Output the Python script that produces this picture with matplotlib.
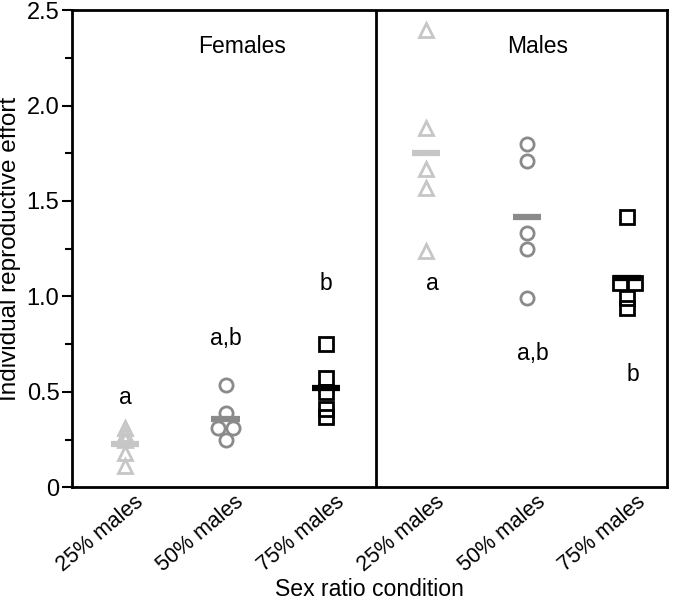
import matplotlib
matplotlib.use("Agg")
import matplotlib.pyplot as plt
import matplotlib.transforms as mtransforms
import numpy as np
from matplotlib.ticker import MultipleLocator, FixedLocator

plt.rcParams["font.family"] = ["Liberation Sans", "DejaVu Sans"]

categories = ["25% males", "50% males", "75% males",
              "25% males", "50% males", "75% males"]
panels = ["Females", "Males"]

groups = [
    [0.31, 0.28, 0.25, 0.18, 0.11],    # females 25%
    [0.535, 0.39, 0.31, 0.31, 0.25],   # females 50%
    [0.75, 0.57, 0.50, 0.41, 0.37],    # females 75%
    [2.395, 1.88, 1.67, 1.57, 1.24],   # males 25%
    [1.80, 1.71, 1.33, 1.25, 0.99],    # males 50%
    [1.415, 1.07, 1.07, 0.99, 0.94],   # males 75%
]
letters = ["a", "a,b", "b", "a", "a,b", "b"]
letter_y = [0.47, 0.78, 1.07, 1.07, 0.70, 0.59]

markers = ["^", "o", "s"] * 2
colors = ["#c6c6c6", "#8a8a8a", "#000000"] * 2

fig = plt.figure(figsize=(6.85, 6.0), dpi=100)
ax = fig.add_axes([0.105, 0.188, 0.869, 0.795])

for i, vals in enumerate(groups):
    vals = np.array(vals)
    xs = np.full(len(vals), float(i))
    # spread points sharing the same value side by side
    for v in np.unique(vals):
        idx = np.where(vals == v)[0]
        if len(idx) > 1:
            xs[idx] = i + np.linspace(-0.075, 0.075, len(idx))
    ax.plot(xs, vals, linestyle="none", marker=markers[i], markersize=9.5,
            markerfacecolor="none", markeredgecolor=colors[i],
            markeredgewidth=2.0, zorder=3)
    m = vals.mean()
    ax.plot([i - 0.14, i + 0.14], [m, m], color=colors[i], lw=4.5,
            solid_capstyle="butt", zorder=4)
    ax.text(i + (0.06 if i >= 3 else 0), letter_y[i], letters[i],
            ha="center", va="center", fontsize=16.5)

ax.axvline(2.5, color="black", lw=2)
ax.text(1.16, 2.31, panels[0], ha="center", va="center", fontsize=16.5)
ax.text(4.11, 2.31, panels[1], ha="center", va="center", fontsize=16.5)

ax.set_xlim(-0.53, 5.4)
ax.set_ylim(0, 2.5)
ax.yaxis.set_major_locator(FixedLocator([0, 0.5, 1.0, 1.5, 2.0, 2.5]))
ax.set_yticklabels(["0", "0.5", "1.0", "1.5", "2.0", "2.5"])
ax.yaxis.set_minor_locator(MultipleLocator(0.25))
ax.tick_params(axis="y", which="major", length=7, width=1.5, labelsize=17,
               pad=2)
ax.tick_params(axis="y", which="minor", length=5, width=1.5)

ax.set_xticks(range(len(categories)))
ax.set_xticklabels(categories, rotation=40, ha="right", va="top",
                   rotation_mode="anchor", fontsize=15.5)
ax.tick_params(axis="x", length=0, pad=3)
shift = mtransforms.ScaledTranslation(9 / 100, 0, fig.dpi_scale_trans)
for lab in ax.get_xticklabels():
    lab.set_transform(lab.get_transform() + shift)

for s in ax.spines.values():
    s.set_linewidth(2)

ax.set_ylabel("Individual reproductive effort", fontsize=17.5, labelpad=4)
ax.set_xlabel("Sex ratio condition", fontsize=16.6, va="center")
ax.xaxis.set_label_coords(0.5, -0.215)

fig.savefig("out.png", dpi=100)
